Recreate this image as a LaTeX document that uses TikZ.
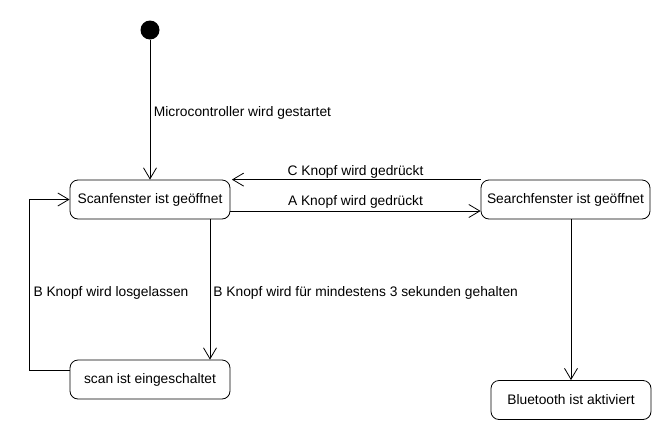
\documentclass[tikz,border=0pt]{standalone}
\usepackage{fontspec}
\setmainfont{Liberation Sans}
\usetikzlibrary{arrows.meta}
\begin{document}
\begin{tikzpicture}[x=1pt,y=-1pt,
  every node/.style={font=\fontsize{13.8}{16}\selectfont},
  state/.style={draw, line width=0.8pt, rounded corners=8pt, minimum height=39pt, inner sep=0pt, align=center},
  lab/.style={inner sep=0pt},
  tr/.style={line width=0.8pt, -{Straight Barb[length=11pt,width=13pt,line width=0.8pt]}}]
\useasboundingbox (0,0) rectangle (670,440);
\node[circle, fill, minimum size=19pt, inner sep=0pt] (init) at (150,30) {};
\node[state, minimum width=160pt] (scanf) at (150,199.5) {Scanfenster ist geöffnet};
\node[state, minimum width=169pt] (searchf) at (565.5,199.5) {Searchfenster ist geöffnet};
\node[state, minimum width=160pt] (scan) at (150,379.5) {scan ist eingeschaltet};
\node[state, minimum width=160pt] (bt) at (571,400) {Bluetooth ist aktiviert};

\draw[tr] (init) -- node[lab, pos=0.523, anchor=west, xshift=3.5pt] {Microcontroller wird gestartet} (scanf);
\draw[tr, shorten >=1.5pt] (searchf.north west) -- node[lab, midway, yshift=8pt] {C Knopf wird gedrückt} (scanf.north east);
\draw[tr] ([yshift=-11.5pt]scanf.east) -- node[lab, midway, yshift=9pt] {A Knopf wird gedrückt} ([yshift=-11.5pt]searchf.west);
\draw[tr] ([xshift=60pt]scanf.south) -- node[lab, pos=0.525, anchor=west, xshift=3pt] {B Knopf wird für mindestens 3 sekunden gehalten} ([xshift=60pt]scan.north);
\draw[tr] ([yshift=9.5pt]scan.west) -- ++(-40,0) |- node[lab, pos=0.226, anchor=west, xshift=3.5pt] {B Knopf wird losgelassen} (scanf.west);
\draw[tr] (searchf.south -| bt.north) -- (bt.north);
\end{tikzpicture}
\end{document}
